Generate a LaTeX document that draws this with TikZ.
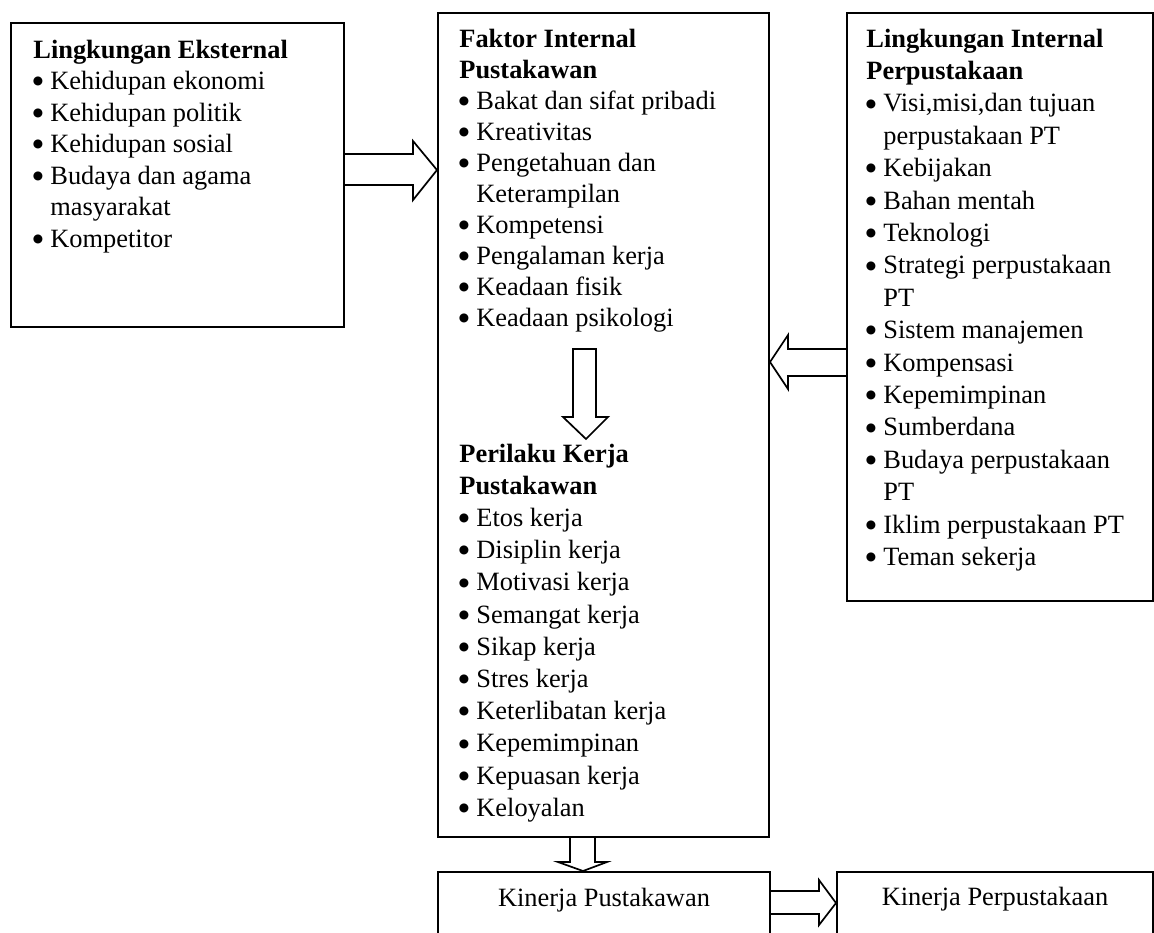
\documentclass[tikz,border=0pt]{standalone}
\usepackage{fontspec}
\setmainfont{Liberation Serif}
\newfontfamily\dejavu{DejaVu Sans}
\usetikzlibrary{calc}
\newcommand\blist[2]{\vtop{\baselineskip=#1\lineskiplimit=-50pt\lineskip=0pt #2}}
\newcommand\bigbul{\raisebox{2.4pt}{\dejavu\fontsize{5.9pt}{5.9pt}\selectfont ●}}
\newcommand\itm[1]{\hbox{\makebox[8.5pt][l]{\hspace*{-0.3pt}\bigbul}#1}}
\newcommand\cnt[1]{\hbox{\hspace*{8.5pt}#1}}
\newcommand\hd[1]{\hbox{\bfseries #1}}
\begin{document}
\begin{tikzpicture}[x=0.5pt,y=-0.5pt,
  box/.style={draw, line width=1pt, inner sep=0pt, anchor=north west},
  barrow/.style={draw, line width=0.85pt, line join=miter},
  txt/.style={inner sep=0pt, anchor=base west, font=\fontsize{13.2pt}{15.75pt}\selectfont}]
\path[use as bounding box, clip] (0,0) rectangle (1154,932);
% boxes
\node[box, minimum width=166.5pt, minimum height=152pt] (ext) at (10,22) {};
\node[box, minimum width=165.5pt, minimum height=412pt] (int) at (437,12) {};
\node[box, minimum width=153pt, minimum height=294pt] (lib) at (846,12) {};
\node[box, minimum width=166pt, minimum height=45pt] (kp) at (437,871) {};
\node[box, minimum width=158pt, minimum height=45pt] (kperp) at (836,871) {};
% texts
\node[txt] (extT) at (33,58) {\blist{15.75pt}{%
  \hd{Lingkungan Eksternal}%
  \itm{Kehidupan ekonomi}%
  \itm{Kehidupan politik}%
  \itm{Kehidupan sosial}%
  \itm{Budaya dan agama}%
  \cnt{masyarakat}%
  \itm{Kompetitor}}};
\node[txt] (intT) at (459,47) {\blist{15.5pt}{%
  \hd{Faktor Internal}%
  \hd{Pustakawan}%
  \itm{Bakat dan sifat pribadi}%
  \itm{Kreativitas}%
  \itm{Pengetahuan dan}%
  \cnt{Keterampilan}%
  \itm{Kompetensi}%
  \itm{Pengalaman kerja}%
  \itm{Keadaan fisik}%
  \itm{Keadaan psikologi}}};
\node[txt] (perT) at (459,462) {\blist{16.1pt}{%
  \hd{Perilaku Kerja}%
  \hd{Pustakawan}%
  \itm{Etos kerja}%
  \itm{Disiplin kerja}%
  \itm{Motivasi kerja}%
  \itm{Semangat kerja}%
  \itm{Sikap kerja}%
  \itm{Stres kerja}%
  \itm{Keterlibatan kerja}%
  \itm{Kepemimpinan}%
  \itm{Kepuasan kerja}%
  \itm{Keloyalan}}};
\node[txt] (libT) at (866,47) {\blist{16.2pt}{%
  \hd{Lingkungan Internal}%
  \hd{Perpustakaan}%
  \itm{Visi,misi,dan tujuan}%
  \cnt{perpustakaan PT}%
  \itm{Kebijakan}%
  \itm{Bahan mentah}%
  \itm{Teknologi}%
  \itm{Strategi perpustakaan}%
  \cnt{PT}%
  \itm{Sistem manajemen}%
  \itm{Kompensasi}%
  \itm{Kepemimpinan}%
  \itm{Sumberdana}%
  \itm{Budaya perpustakaan}%
  \cnt{PT}%
  \itm{Iklim perpustakaan PT}%
  \itm{Teman sekerja}}};
\node[txt, anchor=base] (kpT) at ($(kp.north)+(0,35)$) {Kinerja Pustakawan};
\node[txt, anchor=base] (kperpT) at ($(kperp.north)+(0,34)$) {Kinerja Perpustakaan};
% block arrows
\draw[barrow] (ext.east |- 0,154) -- (413,154) -- (413,141) -- (int.west |- 0,170)
  -- (413,200) -- (413,185) -- (ext.east |- 0,185);
\draw[barrow] (573,349) -- (596,349) -- (596,417) -- (608,417) -- (586,439)
  -- (563,417) -- (573,417) -- cycle;
\draw[barrow] (lib.west |- 0,349) -- (788,349) -- (788,335) -- (int.east |- 0,362)
  -- (788,389) -- (788,376) -- (lib.west |- 0,376);
\draw[barrow] (int.south -| 570,0) -- (570,862) -- (558,862) -- (kp.north -| 583,0)
  -- (607,862) -- (595,862) -- (int.south -| 595,0);
\draw[barrow] (kp.east |- 0,891) -- (819,891) -- (819,880) -- (kperp.west |- 0,903)
  -- (819,925) -- (819,914) -- (kp.east |- 0,914);
\end{tikzpicture}
\end{document}
